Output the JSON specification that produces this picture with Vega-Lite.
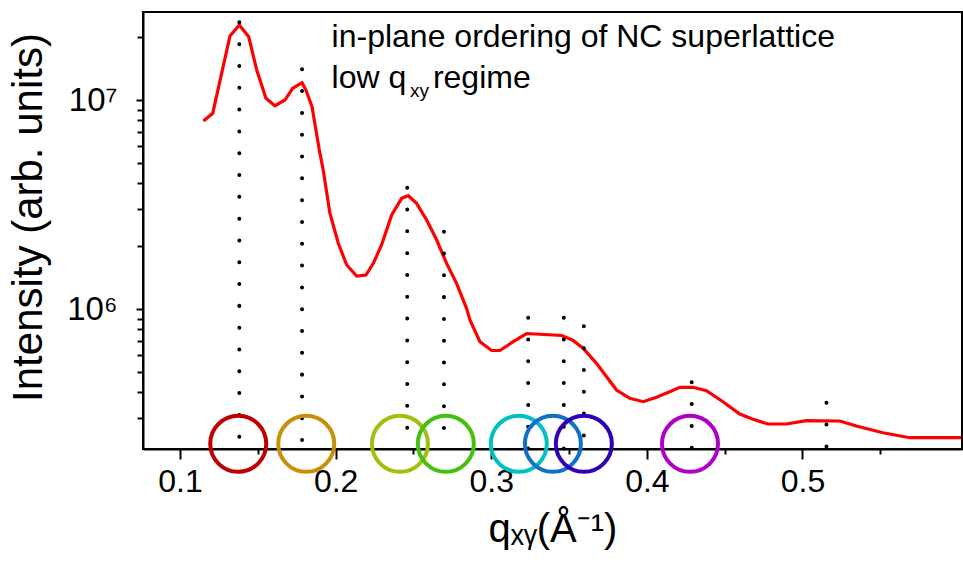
{
  "$schema": "https://vega.github.io/schema/vega-lite/v6.json",
  "width": 819,
  "height": 437,
  "autosize": "none",
  "padding": {"left": 143, "top": 12, "right": 1, "bottom": 114},
  "background": "white",
  "config": {
    "font": "Liberation Sans",
    "view": {"stroke": "black", "strokeWidth": 2},
    "axis": {"grid": false, "labelColor": "black", "titleColor": "black", "tickColor": "black", "domainColor": "black", "titleFontWeight": "normal"}
  },
  "datasets": {
    "curve": [
      {"q": 0.1150, "intensity": 7935000},
      {"q": 0.1210, "intensity": 8637000},
      {"q": 0.1321, "intensity": 20240000},
      {"q": 0.1381, "intensity": 22850000},
      {"q": 0.1441, "intensity": 20090000},
      {"q": 0.1493, "intensity": 13910000},
      {"q": 0.1552, "intensity": 10190000},
      {"q": 0.1610, "intensity": 9390000},
      {"q": 0.1674, "intensity": 10000000},
      {"q": 0.1724, "intensity": 11380000},
      {"q": 0.1784, "intensity": 12100000},
      {"q": 0.1809, "intensity": 11160000},
      {"q": 0.1848, "intensity": 9290000},
      {"q": 0.1895, "intensity": 5766000},
      {"q": 0.1920, "intensity": 4625000},
      {"q": 0.1963, "intensity": 2871000},
      {"q": 0.2017, "intensity": 2063000},
      {"q": 0.2071, "intensity": 1624000},
      {"q": 0.2135, "intensity": 1438000},
      {"q": 0.2195, "intensity": 1454000},
      {"q": 0.2242, "intensity": 1654000},
      {"q": 0.2295, "intensity": 2024000},
      {"q": 0.2360, "intensity": 2818000},
      {"q": 0.2424, "intensity": 3386000},
      {"q": 0.2466, "intensity": 3484000},
      {"q": 0.2520, "intensity": 3204000},
      {"q": 0.2585, "intensity": 2666000},
      {"q": 0.2649, "intensity": 2138000},
      {"q": 0.2713, "intensity": 1654000},
      {"q": 0.2777, "intensity": 1327000},
      {"q": 0.2841, "intensity": 1008000},
      {"q": 0.2863, "intensity": 885800},
      {"q": 0.2927, "intensity": 697500},
      {"q": 0.3002, "intensity": 633100},
      {"q": 0.3055, "intensity": 633000},
      {"q": 0.3141, "intensity": 697500},
      {"q": 0.3227, "intensity": 763400},
      {"q": 0.3312, "intensity": 757500},
      {"q": 0.3452, "intensity": 746800},
      {"q": 0.3521, "intensity": 710700},
      {"q": 0.3590, "intensity": 648700},
      {"q": 0.3676, "intensity": 549800},
      {"q": 0.3741, "intensity": 474500},
      {"q": 0.3805, "intensity": 409700},
      {"q": 0.3890, "intensity": 373900},
      {"q": 0.3976, "intensity": 360200},
      {"q": 0.4062, "intensity": 378100},
      {"q": 0.4147, "intensity": 402100},
      {"q": 0.4211, "intensity": 422100},
      {"q": 0.4297, "intensity": 422100},
      {"q": 0.4383, "intensity": 406600},
      {"q": 0.4489, "intensity": 360200},
      {"q": 0.4597, "intensity": 314500},
      {"q": 0.4682, "intensity": 296700},
      {"q": 0.4778, "intensity": 281800},
      {"q": 0.4897, "intensity": 281800},
      {"q": 0.5025, "intensity": 292200},
      {"q": 0.5239, "intensity": 291200},
      {"q": 0.5346, "intensity": 275600},
      {"q": 0.5517, "intensity": 255900},
      {"q": 0.5689, "intensity": 242200},
      {"q": 0.5774, "intensity": 242700},
      {"q": 0.6021, "intensity": 242200}
    ],
    "peaks": [
      {"q": 0.1381, "top": 23530000},
      {"q": 0.1784, "top": 14030000},
      {"q": 0.2460, "top": 3805000},
      {"q": 0.2696, "top": 2344000},
      {"q": 0.3237, "top": 909000},
      {"q": 0.3466, "top": 909000},
      {"q": 0.3595, "top": 826000},
      {"q": 0.4288, "top": 446000},
      {"q": 0.5154, "top": 356000}
    ],
    "circles": [
      {"peak": "p1", "q": 0.1374},
      {"peak": "p2", "q": 0.1811},
      {"peak": "p3", "q": 0.2413},
      {"peak": "p4", "q": 0.2708},
      {"peak": "p5", "q": 0.3177},
      {"peak": "p6", "q": 0.3396},
      {"peak": "p7", "q": 0.3595},
      {"peak": "p8", "q": 0.4277}
    ],
    "one": [{}]
  },
  "resolve": {"axis": {"x": "independent", "y": "independent"}},
  "layer": [
    {
      "data": {"name": "curve"},
      "mark": {"type": "point", "opacity": 0},
      "encoding": {
        "x": {"field": "q", "type": "quantitative",
          "scale": {"domain": [0.0762, 0.6025], "nice": false, "zero": false},
          "axis": {"orient": "bottom", "values": [0.15, 0.25, 0.35, 0.45, 0.55], "labels": false, "domain": false, "tickSize": 5, "tickWidth": 2, "title": null}},
        "y": {"field": "intensity", "type": "quantitative",
          "scale": {"type": "log", "domain": [213900, 26370000], "nice": false},
          "axis": {"orient": "left", "values": [300000, 400000, 500000, 600000, 700000, 800000, 900000, 2000000, 3000000, 4000000, 5000000, 6000000, 7000000, 8000000, 9000000, 20000000], "labels": false, "domain": false, "tickSize": 6, "tickWidth": 2, "title": null}}
      }
    },
    {
      "data": {"name": "curve"},
      "mark": {"type": "line", "color": "#FF0000", "strokeWidth": 3.2},
      "encoding": {
        "x": {"field": "q", "type": "quantitative",
          "scale": {"domain": [0.0762, 0.6025], "nice": false, "zero": false},
          "axis": {"orient": "bottom", "values": [0.1, 0.2, 0.3, 0.4, 0.5], "format": ".1f", "labelFontSize": 32, "labelPadding": 7, "labelFlush": false, "labelOverlap": false, "tickSize": 10, "tickWidth": 2, "domainWidth": 2, "title": "qₓᵧ(Å⁻¹)", "titleFontSize": 40, "titlePadding": 12}},
        "y": {"field": "intensity", "type": "quantitative",
          "scale": {"type": "log", "domain": [213900, 26370000], "nice": false},
          "axis": {"orient": "left", "values": [1000000, 10000000], "labelExpr": "datum.value >= 5000000 ? '10⁷' : '10⁶'", "labelFontSize": 33, "labelPadding": 19, "tickSize": 7, "tickWidth": 2, "domainWidth": 2, "title": "Intensity (arb. units)", "titleFontSize": 42, "titlePadding": 16, "titleY": 205}}
      }
    },
    {
      "data": {"name": "peaks"},
      "mark": {"type": "rule", "color": "black", "strokeWidth": 4, "strokeCap": "round", "strokeDash": [0.01, 21.8]},
      "encoding": {
        "x": {"field": "q", "type": "quantitative", "axis": null},
        "y": {"field": "top", "type": "quantitative", "axis": null},
        "y2": {"datum": 213900}
      }
    },
    {
      "data": {"name": "circles"},
      "mark": {"type": "point", "shape": "circle", "filled": false, "size": 3136, "strokeWidth": 4, "opacity": 1},
      "encoding": {
        "x": {"field": "q", "type": "quantitative", "axis": null},
        "y": {"datum": 226500, "type": "quantitative", "axis": null},
        "color": {"field": "peak", "type": "nominal", "legend": null,
          "scale": {"domain": ["p1", "p2", "p3", "p4", "p5", "p6", "p7", "p8"],
                    "range": ["#C00000", "#C8900A", "#A0C010", "#44C010", "#00C0C0", "#1070C8", "#3000B8", "#B000C8"]}},
        "order": {"field": "q", "type": "quantitative"}
      }
    },
    {
      "data": {"name": "one"},
      "mark": {"type": "text", "text": "in-plane ordering of NC superlattice", "align": "left", "baseline": "alphabetic", "fontSize": 32, "color": "black"},
      "encoding": {
        "x": {"datum": 0.1974, "type": "quantitative", "axis": null},
        "y": {"datum": 17990000, "type": "quantitative", "axis": null}
      }
    },
    {
      "data": {"name": "one"},
      "mark": {"type": "text", "text": "low q", "align": "left", "baseline": "alphabetic", "fontSize": 32, "color": "black"},
      "encoding": {
        "x": {"datum": 0.1974, "type": "quantitative", "axis": null},
        "y": {"datum": 11380000, "type": "quantitative", "axis": null}
      }
    },
    {
      "data": {"name": "one"},
      "mark": {"type": "text", "text": "xy", "align": "left", "baseline": "alphabetic", "fontSize": 19, "color": "black"},
      "encoding": {
        "x": {"datum": 0.2477, "type": "quantitative", "axis": null},
        "y": {"datum": 10340000, "type": "quantitative", "axis": null}
      }
    },
    {
      "data": {"name": "one"},
      "mark": {"type": "text", "text": "regime", "align": "left", "baseline": "alphabetic", "fontSize": 32, "color": "black"},
      "encoding": {
        "x": {"datum": 0.2625, "type": "quantitative", "axis": null},
        "y": {"datum": 11380000, "type": "quantitative", "axis": null}
      }
    }
  ]
}
